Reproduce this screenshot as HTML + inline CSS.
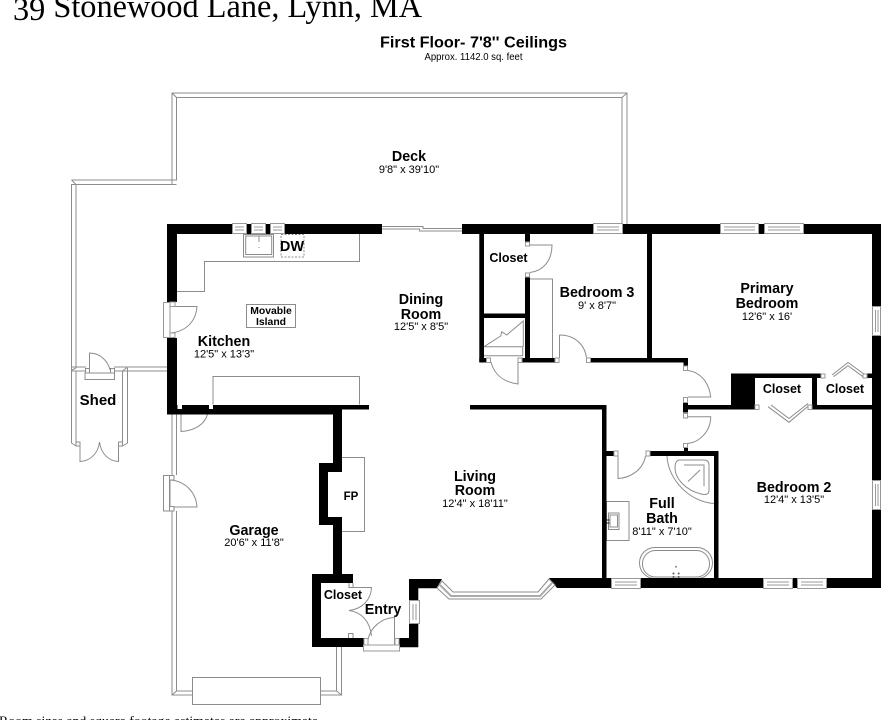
<!DOCTYPE html>
<html><head><meta charset="utf-8"><style>
html,body{margin:0;padding:0;background:#fff;width:881px;height:720px;overflow:hidden}
svg{display:block}
.l{fill:none;stroke:#8c8c8c;stroke-width:1}
.w{fill:#000;stroke:none}
.win{fill:#fff;stroke:#999;stroke-width:1}
text{font-family:"Liberation Sans",sans-serif;fill:#000;text-anchor:middle}
.n{font-size:14.300px;font-weight:bold}
.d{font-size:11px}
.c{font-size:12.500px;font-weight:bold}
</style></head><body>
<svg width="881" height="720" viewBox="0 0 881 720" xmlns="http://www.w3.org/2000/svg">
<g class="l">
<!-- deck -->
<path d="M627 224V93H172V184.500H71.500V368"/>
<path d="M622 224V97.500H176.500V180H71.500"/>
<path d="M176.500 184.500H76V368"/>
<path d="M172 93L176.500 97.500M627 93L622 97.500M71.500 180L76 184.500"/>
<path d="M382 226.500H423V229M382 229H419.500V231H462M423 228.500H462"/>
<!-- shed -->
<path d="M72 367H86M72 371H85M114 367H167M114 371H167"/>
<path d="M71.500 368V443L76 446M76 371V442M122.500 371V442M127.500 368V443L122.500 446"/>
<path d="M76 368L72 370M122.500 371L127.500 367"/>
<rect x="85" y="373" width="29.500" height="6.500" fill="#fff"/>
<path d="M89.500 373V353C100 353 108 361 110 370"/>
<rect x="85.500" y="368.500" width="4" height="4.500" fill="#fff"/><rect x="110.500" y="368.500" width="4" height="4.500" fill="#fff"/>
<path d="M80 445V461.500C90 461 98 454 99.500 442C101 454 109 461 118.500 461.500V445"/>
<rect x="76" y="442" width="4" height="4" fill="#fff"/><rect x="118.500" y="442" width="4" height="4" fill="#fff"/>
<!-- garage -->
<path d="M172 414V475M172 511V695H192.500M176.500 414V475M176.500 511V691H192.500M172 695L176.500 691"/>
<path d="M336.500 647V691H320.500M341.500 647V695H320.500M341.500 695L336.500 691"/>
<rect x="192.500" y="677.500" width="128" height="27" fill="#fff"/>
<rect x="163.500" y="475.500" width="6" height="35.500" fill="#fff"/>
<path d="M170 480C185 481 196 492 197 507H170Z"/>
<rect x="169.500" y="475.500" width="4.500" height="4.500" fill="#fff"/>
<rect x="169.500" y="506.500" width="4.500" height="4.500" fill="#fff"/>
<path d="M181 414V431.500C193 431 205 425 207.500 414"/>
<!-- kitchen counters -->
<path d="M177 291.500H204.500V261.500H359.500V234"/>
<path d="M213 404.500V376.500H359.500V404.500"/>
<rect x="246.500" y="304.500" width="49" height="23"/>
<rect x="243.500" y="234.500" width="30" height="22.500"/>
<rect x="245.700" y="236" width="26" height="18.500"/>
<path d="M259 236V242M259 247V248"/>
<rect x="281" y="234.500" width="23" height="22.500" stroke-dasharray="2 1.500"/>
<!-- kitchen door -->
<path d="M170 306.500V333C185 332 196 322 197 306.500Z"/>
<!-- FP -->
<path d="M342 457.500H364.500V531.500H342"/>
<!-- entry -->
<path d="M353 587.500H371.500C371 600 362 609 349 610.500C362 612 370 622 371.500 636"/>
<path d="M368 640C370 628 381 618 394.500 617.500V645"/>
<path d="M348.500 638V633.500H353V638M349 583V587.500H353V583"/>
<!-- closets, bedroom 3 -->
<path d="M530 245H552C552 262 542 271 530 272.500"/>
<path d="M530 279H552.500V358"/>
<path d="M559.500 335V358M559.500 335C575 335 585 345 586.500 358"/>
<path d="M491 362C494 374 503 382 518 384V362"/>
<!-- stairs -->
<path d="M484 346.700H522.700M484 355.700H522.700V346.700M484 346.700L500.700 336L501.700 331.700L506.700 335L523.300 321V346.700"/>
<!-- hall doors -->
<path d="M688 370.500C700 372 709 382 710.700 397H688"/>
<path d="M688 416.700H710.700C710.700 431 700 442 688 443.500"/>
<!-- closet bifolds -->
<path d="M832 375L848 362.500L864 374M833.500 376.700L848 365.700L863 376.700"/>
<path d="M768 406.700L789 422.300L809.500 405M771 405L789 418.500L808 403.500"/>
<!-- bath door -->
<path d="M618 456V478.500C630 478 643 470 645.500 456"/>
<!-- shower -->
<path d="M667 456C668 480 690 502 714 503.500"/>
<path d="M680 460H704Q709 460 709 465V490Q709 496 701 494C685 490 675 478 675 468Q675 460 680 460Z"/>
<path d="M684 465H704V486M688 481.500L700 470"/>
<!-- vanity -->
<rect x="606.500" y="501.500" width="22.500" height="39"/>
<rect x="608.500" y="513" width="10.500" height="16.500"/>
<rect x="610" y="515" width="7.500" height="12"/>
<!-- tub -->
<rect x="639.500" y="547.500" width="73" height="31" rx="15.500" fill="#fff"/>
<rect x="642.500" y="550.500" width="67" height="26.500" rx="13" fill="#fff"/>
</g>
<circle cx="676" cy="566.700" r="1" fill="#888"/>
<circle cx="673.500" cy="573.500" r="1" fill="#555"/><circle cx="678.700" cy="573.500" r="1" fill="#555"/>
<circle cx="673.500" cy="577" r="1" fill="#555"/><circle cx="678.700" cy="577" r="1" fill="#555"/>
<rect x="606" y="519.500" width="3.500" height="1" fill="#222"/><rect x="606" y="522.500" width="3.500" height="1" fill="#222"/>

<!-- walls -->
<g class="w">
<rect x="167" y="224" width="215" height="10"/>
<rect x="167" y="224" width="10" height="78"/>
<rect x="167" y="338" width="10" height="76"/>
<rect x="167" y="405" width="175" height="9.500"/>
<rect x="342" y="405" width="27" height="4.500"/>
<path d="M333 414H342V472H328V517H342V574H353V583H321V638H363.500V647H312V574H333V525H319V463H333Z"/>
<path d="M399.500 638H409V624H418.300V647.300H399.500ZM409 579H442L436.500 588.300H418.300V600H409Z"/>
<rect x="462" y="224" width="419" height="10"/>
<rect x="872" y="224" width="9" height="82"/>
<rect x="872" y="335" width="9" height="145"/>
<rect x="872" y="509" width="9" height="79"/>
<path d="M549 578H881V588H557Z"/>
<rect x="479.300" y="234" width="4.700" height="128"/>
<rect x="479.300" y="358" width="7" height="4.500"/>
<rect x="484" y="313.500" width="41" height="4.500"/>
<rect x="525" y="234" width="5" height="8"/>
<rect x="525" y="277" width="5" height="85"/>
<rect x="522" y="358" width="33" height="4.500"/>
<rect x="591" y="358" width="97" height="4.500"/>
<rect x="647" y="234" width="5" height="126"/>
<rect x="683.500" y="358" width="4.500" height="8"/>
<rect x="683" y="402.500" width="5" height="10"/>
<rect x="688" y="405" width="67" height="4.500"/>
<rect x="731" y="373.500" width="24" height="32"/>
<rect x="731" y="373.500" width="90" height="4.500"/>
<rect x="812" y="373.500" width="5" height="36"/>
<rect x="812" y="405" width="60" height="4.500"/>
<rect x="867" y="373.500" width="5" height="4.500"/>
<rect x="470" y="405" width="136.500" height="4.500"/>
<rect x="602" y="405" width="4.500" height="175"/>
<rect x="606" y="451" width="8" height="5"/>
<rect x="650" y="451" width="68" height="5"/>
<rect x="714" y="451" width="4.500" height="128"/>
<rect x="684" y="447" width="4" height="5"/>
</g>

<!-- windows -->
<g class="win">
<rect x="232.500" y="223.500" width="14" height="10"/><rect x="251.500" y="223.500" width="14" height="10"/><rect x="270.500" y="223.500" width="14" height="10"/>
<rect x="593.500" y="223.500" width="29" height="10"/>
<rect x="720.500" y="223.500" width="38" height="10"/>
<rect x="764.500" y="223.500" width="39" height="10"/>
<rect x="872.500" y="306.500" width="8" height="29"/>
<rect x="872.500" y="480.500" width="8" height="29"/>
<rect x="611.500" y="578.500" width="29" height="10"/>
<rect x="763.500" y="578.500" width="29" height="10"/>
<rect x="797.500" y="578.500" width="29" height="10"/>
<rect x="409.500" y="600.500" width="10" height="23"/>
<rect x="163.500" y="302.500" width="6.500" height="35"/>
<rect x="170" y="302" width="5" height="4.500"/>
<rect x="170" y="333" width="5" height="4.500"/>
<rect x="363.500" y="645" width="36" height="6"/>
<rect x="364" y="638.500" width="4" height="6.500"/>
<rect x="395" y="638.500" width="4" height="6.500"/>
<rect x="177.500" y="405" width="4.500" height="4" fill="#fff" stroke="none"/>
<rect x="209" y="405" width="4" height="4" fill="#fff" stroke="none"/>
<path d="M235 227H244M235 230H244M254 227H263M254 230H263M273 227H282M273 230H282M597 227H619M597 230H619M724 227H755M724 230H755M768 227H800M768 230H800M875.500 310V332M878 310V332M875.500 484V506M878 484V506M615 582H637M615 585H637M767 582H789M767 585H789M801 582H823M801 585H823M413 604V620M416 604V620" fill="none"/>
<rect x="525.500" y="242" width="4" height="4" fill="#fff"/>
<rect x="525.500" y="273" width="4" height="4" fill="#fff"/>
<rect x="555" y="358" width="4" height="4.500" fill="#fff"/>
<rect x="586.500" y="358" width="4" height="4.500" fill="#fff"/>
<rect x="486.500" y="358" width="4" height="4.500" fill="#fff"/>
<rect x="518" y="358" width="4" height="4.500" fill="#fff"/>
<rect x="683.500" y="366" width="4" height="4.500" fill="#fff"/>
<rect x="683.500" y="397.500" width="4" height="5" fill="#fff"/>
<rect x="683.500" y="413.500" width="4" height="4.500" fill="#fff"/>
<rect x="683.500" y="443.500" width="4" height="4" fill="#fff"/>
<rect x="755" y="405" width="4" height="4.500" fill="#fff"/>
<rect x="808" y="405" width="4" height="4.500" fill="#fff"/>
<rect x="821" y="374" width="4" height="4" fill="#fff"/>
<rect x="863" y="374" width="4" height="4" fill="#fff"/>
<rect x="614" y="451" width="4" height="5" fill="#fff"/>
<rect x="646" y="451" width="4" height="5" fill="#fff"/>
</g>
<!-- bay window -->
<path d="M437 588L449 599H541L555 585L549 579L538 592H453L442 581Z" fill="#fff" stroke="#8c8c8c" stroke-width="1"/>
<path d="M440 585L451 596H540L552 583" fill="none" stroke="#aaa" stroke-width="2"/>

<!-- text -->
<text x="13" y="17" style="font-family:'Liberation Serif',serif;font-size:32.300px;text-anchor:start"><tspan dy="3">39</tspan><tspan dy="-3"> Stonewood Lane, Lynn, MA</tspan></text>
<text x="473.500" y="47.500" style="font-size:16px;font-weight:bold" textLength="187" lengthAdjust="spacingAndGlyphs">First Floor- 7'8'' Ceilings</text>
<text x="473.500" y="60" style="font-size:10px" textLength="98" lengthAdjust="spacingAndGlyphs">Approx. 1142.0 sq. feet</text>
<text x="-1" y="725" style="font-family:'Liberation Serif',serif;font-size:13px;text-anchor:start" textLength="319" lengthAdjust="spacingAndGlyphs">Room sizes and square footage estimates are approximate</text>

<text class="n" x="409" y="161">Deck</text><text class="d" x="409" y="173">9'8" x 39'10"</text>
<text x="98" y="405" style="font-size:15px;font-weight:bold">Shed</text>
<text class="n" x="224" y="346">Kitchen</text><text class="d" x="224" y="357.500">12'5" x 13'3"</text>
<text x="271" y="314" style="font-size:10.400px;font-weight:bold">Movable</text>
<text x="271" y="325" style="font-size:10.400px;font-weight:bold">Island</text>
<text x="292" y="251" style="font-size:14.500px;font-weight:bold">DW</text>
<text class="n" x="421" y="304">Dining</text><text class="n" x="421" y="319">Room</text><text class="d" x="421" y="330">12'5" x 8'5"</text>
<text class="c" x="508.500" y="262">Closet</text>
<text class="n" x="597" y="297">Bedroom 3</text><text class="d" x="597" y="309">9' x 8'7"</text>
<text class="n" x="767" y="293">Primary</text><text class="n" x="767" y="308">Bedroom</text><text class="d" x="767" y="320">12'6" x 16'</text>
<text class="c" x="782" y="393">Closet</text><text class="c" x="845" y="393">Closet</text>
<text class="n" x="794" y="492">Bedroom 2</text><text class="d" x="794" y="503">12'4" x 13'5"</text>
<text class="n" x="662" y="508">Full</text><text class="n" x="662" y="523">Bath</text><text class="d" x="662" y="535">8'11" x 7'10"</text>
<text class="n" x="475" y="481">Living</text><text class="n" x="475" y="495">Room</text><text class="d" x="475" y="507">12'4" x 18'11"</text>
<text class="n" x="254" y="535">Garage</text><text class="d" x="254" y="546">20'6" x 11'8"</text>
<text x="351" y="500" style="font-size:11.500px;font-weight:bold">FP</text>
<text class="c" x="343" y="599">Closet</text>
<text class="n" x="383" y="614">Entry</text>
</svg>
</body></html>
